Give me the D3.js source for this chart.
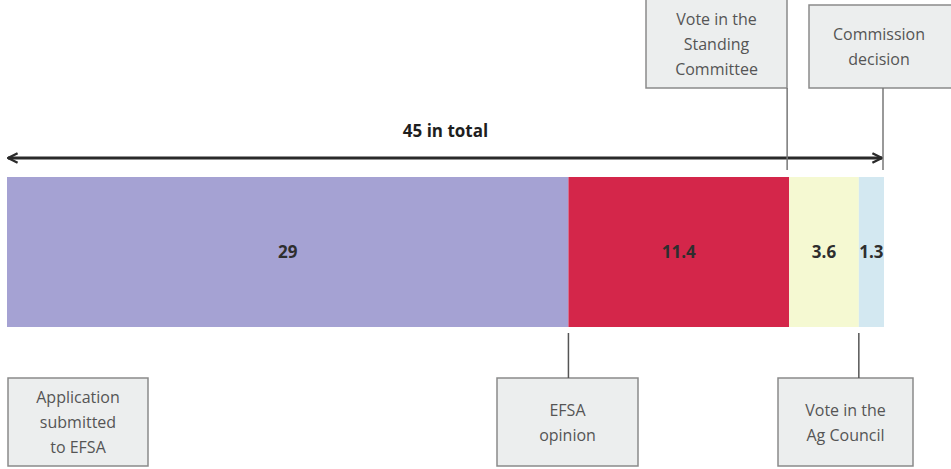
<!DOCTYPE html>
<html>
<head>
<meta charset="utf-8">
<script src="https://cdn.jsdelivr.net/npm/d3@7"></script>
<style>
  body { margin: 0; background: #fff; }
  svg { display: block; font-family: "Open Sans", "Lato", sans-serif; }
</style>
</head>
<body>
<div id="chart"></div>
<script>
// Durées des étapes (mois)
const etapes = ["Application submitted to EFSA", "EFSA opinion", "Vote in the Standing Committee", "Vote in the Ag Council"];
const valeurs = [29, 11.4, 3.6, 1.3];
const couleurs = ["#a5a2d3", "#d4264a", "#f5f9d2", "#d3e8f1"];
const titreTotal = "45 in total";

// Encadrés : lignes de texte, position sur l'axe (cumul)
const encadresHaut = [
  { lignes: ["Vote in the", "Standing", "Committee"], cumul: 29 + 11.4 },
  { lignes: ["Commission", "decision"], cumul: 29 + 11.4 + 3.6 + 1.3 }
];
const encadresBas = [
  { lignes: ["Application", "submitted", "to EFSA"], cumul: 0 },
  { lignes: ["EFSA", "opinion"], cumul: 29 },
  { lignes: ["Vote in the", "Ag Council"], cumul: 29 + 11.4 + 3.6 }
];

const largeur = 951, hauteur = 469;
const svg = d3.select("#chart").append("svg").attr("width", largeur).attr("height", hauteur);

const total = d3.sum(valeurs);
const x = d3.scaleLinear().domain([0, total]).range([7, 884]);
const barreY = 177, barreH = 150;

// Segments de la barre
let cumul = 0;
const segments = valeurs.map((v, i) => {
  const s = { debut: cumul, fin: cumul + v, valeur: v, couleur: couleurs[i] };
  cumul += v;
  return s;
});

svg.selectAll("rect.segment").data(segments).enter().append("rect")
  .attr("class", "segment")
  .attr("x", d => x(d.debut))
  .attr("y", barreY)
  .attr("width", d => x(d.fin) - x(d.debut))
  .attr("height", barreH)
  .attr("fill", d => d.couleur);

svg.selectAll("text.valeur").data(segments).enter().append("text")
  .attr("x", d => (x(d.debut) + x(d.fin)) / 2)
  .attr("y", barreY + barreH / 2 + 6)
  .attr("text-anchor", "middle")
  .attr("font-size", 17)
  .attr("font-weight", "bold")
  .attr("fill", "#2e2e2e")
  .text(d => d.valeur);

// Flèche double "45 in total"
const defs = svg.append("defs");
["debut", "fin"].forEach(id => {
  defs.append("marker")
    .attr("id", "fleche-" + id)
    .attr("viewBox", "0 0 10 10")
    .attr("refX", 9).attr("refY", 5)
    .attr("markerWidth", 4).attr("markerHeight", 4)
    .attr("orient", id === "fin" ? "auto" : "auto-start-reverse")
    .append("path")
    .attr("d", "M1,1 L9,5 L1,9")
    .attr("fill", "none")
    .attr("stroke", "#2a2a2a")
    .attr("stroke-width", 2);
});

svg.append("line")
  .attr("x1", x(0) + 1).attr("x2", x(total) - 2)
  .attr("y1", 158).attr("y2", 158)
  .attr("stroke", "#2a2a2a")
  .attr("stroke-width", 3)
  .attr("marker-start", "url(#fleche-debut)")
  .attr("marker-end", "url(#fleche-fin)");

svg.append("text")
  .attr("x", (x(0) + x(total)) / 2)
  .attr("y", 137)
  .attr("text-anchor", "middle")
  .attr("font-size", 17)
  .attr("font-weight", "bold")
  .attr("fill", "#1e1e1e")
  .text(titreTotal);

// Encadrés du haut
const boitesHaut = [
  { x0: 646, x1: 787, y0: -2, y1: 88, ligneX: x(encadresHaut[0].cumul) - 2 },
  { x0: 809, x1: 960, y0: 5, y1: 88, ligneX: x(encadresHaut[1].cumul) - 1 }
];
// Encadrés du bas
const boitesBas = [
  { x0: 8, x1: 148, y0: 378, y1: 466, ligneX: null },
  { x0: 497, x1: 638, y0: 378, y1: 466, ligneX: x(encadresBas[1].cumul) },
  { x0: 778, x1: 913, y0: 378, y1: 466, ligneX: x(encadresBas[2].cumul) }
];

function dessineEncadre(enc, b, haut) {
  svg.append("rect")
    .attr("x", b.x0).attr("y", b.y0)
    .attr("width", b.x1 - b.x0).attr("height", b.y1 - b.y0)
    .attr("fill", "#eceeee")
    .attr("stroke", "#8a8a8a")
    .attr("stroke-width", 1.5);
  const cx = (b.x0 + Math.min(b.x1, 949)) / 2;
  const pas = 25;
  const milieu = (Math.max(b.y0, 0) + b.y1) / 2;
  const y0 = milieu - (enc.lignes.length - 1) * pas / 2 + 6;
  enc.lignes.forEach((l, i) => {
    svg.append("text")
      .attr("x", cx).attr("y", y0 + i * pas)
      .attr("text-anchor", "middle")
      .attr("font-size", 16)
      .attr("fill", "#555")
      .text(l);
  });
  if (b.ligneX !== null) {
    svg.append("line")
      .attr("x1", b.ligneX).attr("x2", b.ligneX)
      .attr("y1", haut ? b.y1 : barreY + barreH + 6)
      .attr("y2", haut ? 170 : b.y0)
      .attr("stroke", haut ? "#777" : "#555")
      .attr("stroke-width", 1.5);
  }
}

encadresHaut.forEach((e, i) => dessineEncadre(e, boitesHaut[i], true));
encadresBas.forEach((e, i) => dessineEncadre(e, boitesBas[i], false));
</script>
</body>
</html>
